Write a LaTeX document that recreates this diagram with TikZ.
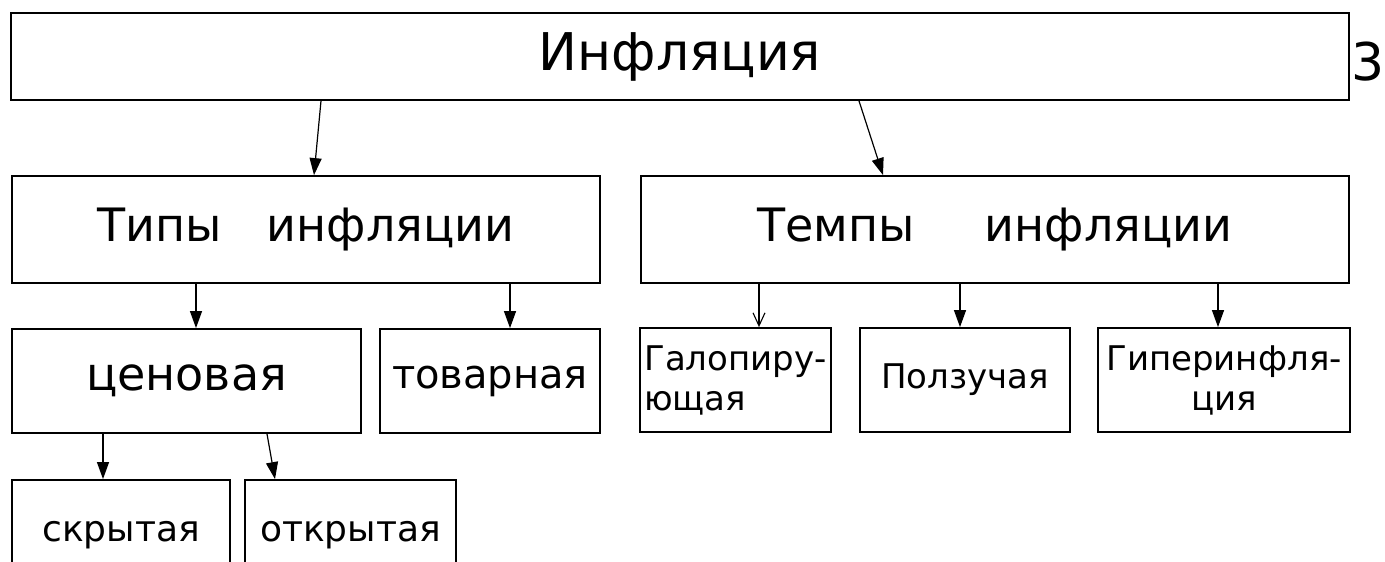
\documentclass[tikz,border=0pt]{standalone}
\usepackage{fontspec}
\setmainfont{DejaVu Sans}
\usetikzlibrary{arrows.meta}

\begin{document}
\begin{tikzpicture}[x=1pt,y=-1pt,>={Triangle[length=17pt,width=12pt]},
    box/.style={draw,line width=1.8pt,inner sep=4pt},
    huge/.style={font=\fontsize{52}{60}\selectfont},
    mid/.style={font=\fontsize{46}{52}\selectfont},
    small/.style={font=\fontsize{34}{40}\selectfont},
    link/.style={line width=1.2pt,->}]
    \useasboundingbox (0,0) rectangle (1385,562);
    \clip (0,0) rectangle (1385,562);
    \node[box,huge,minimum width=1338pt,minimum height=87pt](infl) at (680,56.5){Инфляция};
    \node[huge] (page) at (1368,62){3};
    \node[box,mid,minimum width=588pt,minimum height=107pt](types) at (306,229.5){Типы\hspace{45pt}инфляции};
    \node[box,mid,minimum width=708pt,minimum height=107pt](rates) at (995,229.5){Темпы\hspace{70pt}инфляции};
    \draw[link](321,0 |- infl.south)--(314,0 |- types.north);
    \draw[link](859,0 |- infl.south)--(883,0 |- rates.north);
    \node[box,mid,minimum width=349pt,minimum height=104pt](price) at (186.5,381){ценовая};
    \node[box,font=\fontsize{40}{46}\selectfont,minimum width=220pt,minimum height=104pt](goods) at (490,381){товарная};
    \node[box,small,align=left,minimum width=191pt,minimum height=104pt](gallop) at (735.5,380){Галопиру-\\ющая};
    \node[box,small,minimum width=210pt,minimum height=104pt](creep) at (965,380){Ползучая};
    \node[box,small,align=center,minimum width=252pt,minimum height=104pt](hyper) at (1224,380){Гиперинфля-\\ция};
    \draw[link](196,0 |- types.south)--(196,0 |- price.north);
    \draw[link](510,0 |- types.south)--(510,0 |- goods.north);
    \draw[line width=1.1pt,-{Straight Barb[length=13pt,width=12pt]}](759,0 |- rates.south)--(759,0 |- gallop.north);
    \draw[link](960,0 |- rates.south)--(960,0 |- creep.north);
    \draw[link](1218,0 |- rates.south)--(1218,0 |- hyper.north);
    \node[box,font=\fontsize{36}{42}\selectfont,minimum width=218pt,minimum height=110pt](hidden) at (121,535){скрытая};
    \node[box,font=\fontsize{36}{42}\selectfont,minimum width=211pt,minimum height=110pt](opened) at (350.5,535){открытая};
    \draw[link](103,0 |- price.south)--(103,0 |- hidden.north);
    \draw[link](267,0 |- price.south)--(275,0 |- opened.north);
\end{tikzpicture}
\end{document}
